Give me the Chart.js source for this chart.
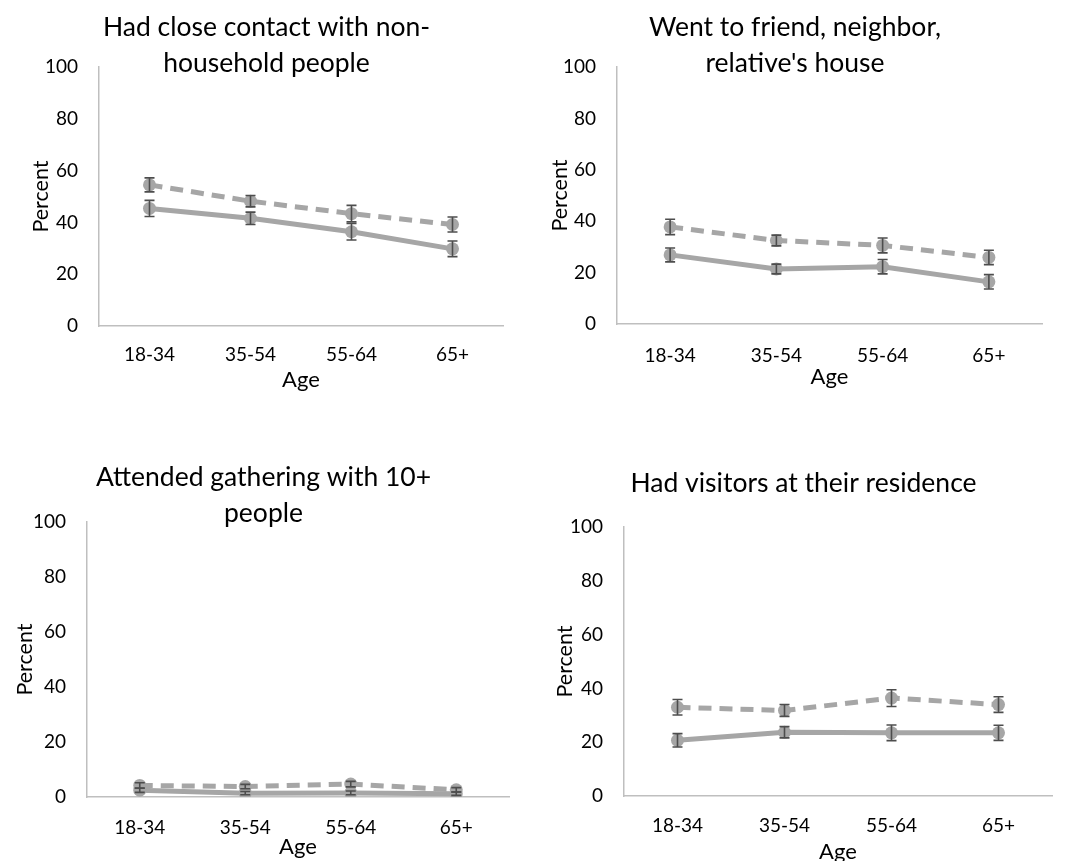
<!DOCTYPE html>
<html>
<head>
<meta charset="utf-8">
<script src="https://cdn.jsdelivr.net/npm/chart.js@4.4.1/dist/chart.umd.min.js"></script>
<style>
  html, body { margin: 0; padding: 0; background: #fff; }
  .grid { display: grid; grid-template-columns: 535px 535px; grid-template-rows: 430px 431px; width: 1070px; }
  .cell { position: relative; width: 535px; height: 100%; }
</style>
</head>
<body>
<div class="grid">
  <div class="cell"><canvas id="c1"></canvas></div>
  <div class="cell"><canvas id="c2"></canvas></div>
  <div class="cell"><canvas id="c3"></canvas></div>
  <div class="cell"><canvas id="c4"></canvas></div>
</div>
<script>
// age groups on the x axis
const ageGroups = ['18-34', '35-54', '55-64', '65+'];
const yTicks = [0, 20, 40, 60, 80, 100];

// panel 1: close contact with non-household people
const contactDashed = [54.5, 48.2, 43.4, 39.2];
const contactDashedErr = [2.7, 2.2, 3.2, 2.9];
const contactSolid = [45.4, 41.6, 36.4, 29.8];
const contactSolidErr = [3.1, 2.4, 3.2, 3.0];

// panel 2: went to friend / neighbor / relative's house
const houseDashed = [37.8, 32.5, 30.6, 25.9];
const houseDashedErr = [3.0, 2.1, 2.9, 2.8];
const houseSolid = [26.9, 21.4, 22.3, 16.4];
const houseSolidErr = [2.7, 1.9, 2.8, 2.8];

// panel 3: gathering with 10+ people
const gatherDashed = [4.2, 3.8, 4.7, 2.6];
const gatherDashedErr = [1.0, 0.8, 1.0, 0.8];
const gatherSolid = [2.5, 1.4, 1.5, 1.2];
const gatherSolidErr = [0.8, 0.6, 0.7, 0.6];

// panel 4: visitors at residence
const visitDashed = [33.0, 31.8, 36.4, 34.0];
const visitDashedErr = [2.9, 2.2, 3.1, 2.9];
const visitSolid = [20.7, 23.7, 23.5, 23.5];
const visitSolidErr = [2.5, 2.1, 2.9, 2.8];

const LINE = '#a6a6a6';
const BAR = '#4d4d4d';
const AXIS = '#bfbfbf';
const FONT = 'Lato, "Open Sans", sans-serif';

// error bars drawn from each dataset's "err" array via the y scale
const errorBars = {
  id: 'errorBars',
  afterDatasetsDraw(chart) {
    const ctx = chart.ctx;
    const y = chart.scales.y;
    chart.data.datasets.forEach((ds, i) => {
      const meta = chart.getDatasetMeta(i);
      ctx.save();
      ctx.strokeStyle = BAR;
      ctx.lineWidth = 1.6;
      meta.data.forEach((pt, j) => {
        const v = ds.data[j], e = ds.err[j];
        const top = y.getPixelForValue(v + e);
        const bot = y.getPixelForValue(v - e);
        ctx.beginPath();
        ctx.moveTo(pt.x, top); ctx.lineTo(pt.x, bot);
        ctx.moveTo(pt.x - 5, top); ctx.lineTo(pt.x + 5, top);
        ctx.moveTo(pt.x - 5, bot); ctx.lineTo(pt.x + 5, bot);
        ctx.stroke();
      });
      ctx.restore();
    });
  }
};

function makePanel(id, cfg) {
  new Chart(document.getElementById(id), {
    type: 'line',
    data: {
      labels: ageGroups,
      datasets: [
        { data: cfg.dashed, err: cfg.dashedErr, borderColor: LINE, backgroundColor: LINE,
          borderWidth: 5, borderDash: [13, 8], pointRadius: 6.5, pointBorderWidth: 0, tension: 0 },
        { data: cfg.solid, err: cfg.solidErr, borderColor: LINE, backgroundColor: LINE,
          borderWidth: 5, pointRadius: 6.5, pointBorderWidth: 0, tension: 0 }
      ]
    },
    options: {
      responsive: true, maintainAspectRatio: false, animation: false,
      layout: { padding: { left: cfg.padL, right: cfg.padR, top: 0, bottom: cfg.padB } },
      plugins: {
        legend: { display: false },
        tooltip: { enabled: false },
        title: {
          display: true, text: cfg.title, color: '#000',
          font: { family: FONT, size: 26.5, weight: 'normal', lineHeight: 1.36 },
          padding: { top: cfg.titleTop, bottom: cfg.titleBottom }
        }
      },
      scales: {
        x: {
          offset: true,
          afterFit: s => { s.height = cfg.xH; },
          grid: { display: false, drawTicks: false },
          border: { color: AXIS, width: 1.5 },
          ticks: { color: '#000', font: { family: FONT, size: 19 }, padding: cfg.xTickPad },
          title: { display: true, text: 'Age', color: '#000', font: { family: FONT, size: 22 },
                   padding: { top: 0, bottom: cfg.ageBottom } }
        },
        y: {
          min: 0, max: 100,
          afterBuildTicks: s => { s.ticks = yTicks.map(v => ({ value: v })); },
          afterFit: s => { s.width = 69; },
          grid: { display: false, drawTicks: false },
          border: { color: AXIS, width: 1.5 },
          ticks: { color: '#000', font: { family: FONT, size: 19 }, padding: 21 },
          title: { display: true, text: 'Percent', color: '#000', font: { family: FONT, size: 21.5, lineHeight: 1 },
                   padding: { top: cfg.pctPad, bottom: 0 } }
        }
      }
    },
    plugins: [errorBars]
  });
}

makePanel('c1', { title: ['Had close contact with non-', 'household people'],
  dashed: contactDashed, dashedErr: contactDashedErr, solid: contactSolid, solidErr: contactSolidErr,
  padL: 30, padR: 32, padB: 37, xH: 67, titleTop: 9, titleBottom: -14, xTickPad: 17, ageBottom: 0, pctPad: 0 });
makePanel('c2', { title: ['Went to friend, neighbor,', "relative's house"],
  dashed: houseDashed, dashedErr: houseDashedErr, solid: houseSolid, solidErr: houseSolidErr,
  padL: 13, padR: 28, padB: 40, xH: 66, titleTop: 9, titleBottom: -14, xTickPad: 20, ageBottom: 0, pctPad: 1 });
makePanel('c3', { title: ['Attended gathering with 10+', 'people'],
  dashed: gatherDashed, dashedErr: gatherDashedErr, solid: gatherSolid, solidErr: gatherSolidErr,
  padL: 18, padR: 26, padB: 1, xH: 63, titleTop: 29, titleBottom: -9, xTickPad: 19, ageBottom: 0, pctPad: -4 });
makePanel('c4', { title: ['Had visitors at their residence'],
  dashed: visitDashed, dashedErr: visitDashedErr, solid: visitSolid, solidErr: visitSolidErr,
  padL: 20, padR: 18, padB: 0, xH: 65, titleTop: 35, titleBottom: 26, xTickPad: 18, ageBottom: -4, pctPad: -1 });
</script>
</body>
</html>
